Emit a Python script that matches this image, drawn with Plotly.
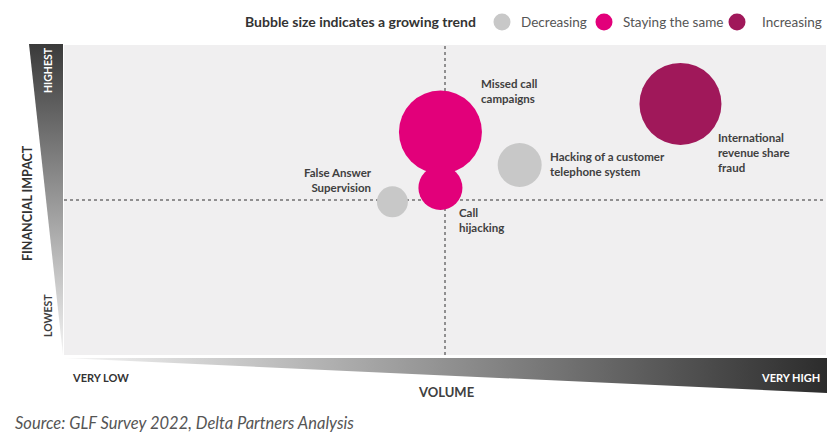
import base64
import plotly.graph_objects as go

# ---------------- data ----------------
threats = ["Missed call campaigns", "Call hijacking", "False Answer Supervision",
           "Hacking of a customer telephone system", "International revenue share fraud"]
labels = ["Missed call<br>campaigns", "Call<br>hijacking", "False Answer<br>Supervision",
          "Hacking of a customer<br>telephone system", "International<br>revenue share<br>fraud"]
volume = [4.94, 4.94, 4.31, 5.98, 8.09]      # 0 = very low, 10 = very high
impact = [7.19, 5.39, 4.94, 6.13, 8.10]      # 0 = lowest, 10 = highest
growth = [83, 44, 31, 44, 82]                # bubble size (growing trend)
trend = ["Staying the same", "Staying the same", "Decreasing", "Decreasing", "Increasing"]
trend_order = ["Decreasing", "Staying the same", "Increasing"]
trend_colors = {"Decreasing": "#c8c8c8", "Staying the same": "#e2007a", "Increasing": "#a0185a"}

# label anchor positions (data coords) and alignment
label_x = [5.45, 5.16, 4.07, 6.35, 8.56]
label_y = [8.52, 4.35, 5.65, 6.15, 6.52]
label_anchor = ["left", "left", "right", "left", "left"]

OFF = 8                      # page body margin
W, H = 840 - OFF, 443 - OFF
L, R, T, B = 64, 826, 45, 355   # plot area in window pixels
FONT = "Lato"
TXT = "#404040"


def px(x):
    return (x - L) / (R - L)


def py(y):
    return (B - y) / (B - T)


def svg_uri(svg):
    return "data:image/svg+xml;base64," + base64.b64encode(svg.encode()).decode()


fig = go.Figure()
for t in trend_order:
    idx = [i for i, v in enumerate(trend) if v == t]
    fig.add_trace(go.Scatter(
        x=[volume[i] for i in idx], y=[impact[i] for i in idx],
        mode="markers", name=t, text=[threats[i] for i in idx],
        marker=dict(size=[growth[i] for i in idx], sizemode="diameter", sizeref=1,
                    color=trend_colors[t], opacity=1, line=dict(width=0)),
        hovertemplate="%{text}<extra></extra>", showlegend=False))

# quadrant dotted lines
fig.add_shape(type="line", xref="x", yref="paper", x0=5, x1=5, y0=0, y1=1,
              line=dict(color="#707070", width=1.5, dash="dot"), layer="below")
fig.add_shape(type="line", xref="paper", yref="y", x0=0, x1=1, y0=5, y1=5,
              line=dict(color="#707070", width=1.5, dash="dot"), layer="below")

annotations = []
for i in range(len(threats)):
    annotations.append(dict(x=label_x[i], y=label_y[i], xref="x", yref="y", text=labels[i],
                            showarrow=False, xanchor=label_anchor[i], yanchor="middle",
                            align=label_anchor[i],
                            font=dict(family=FONT, size=11.5, color=TXT, weight="bold")))

# gradient wedges
left_svg = ('<svg xmlns="http://www.w3.org/2000/svg" width="34" height="311" viewBox="0 0 34 311" '
            'preserveAspectRatio="none"><defs><linearGradient id="g" x1="0" y1="0" x2="0" y2="1">'
            '<stop offset="0" stop-color="#3a3a3a"/><stop offset="1" stop-color="#f4f4f4"/>'
            '</linearGradient></defs><polygon points="0,0 34,0 34,311" fill="url(#g)"/></svg>')
bottom_svg = ('<svg xmlns="http://www.w3.org/2000/svg" width="763" height="35" viewBox="0 0 763 35" '
              'preserveAspectRatio="none"><defs><linearGradient id="g" x1="0" y1="0" x2="1" y2="0">'
              '<stop offset="0" stop-color="#f6f6f6"/><stop offset="1" stop-color="#2c2c2c"/>'
              '</linearGradient></defs><polygon points="0,0 763,0 763,35" fill="url(#g)"/></svg>')
images = [
    dict(source=svg_uri(left_svg), xref="paper", yref="paper", x=px(29), y=py(44),
         sizex=(63 - 29) / (R - L), sizey=(355 - 44) / (B - T), xanchor="left", yanchor="top",
         sizing="stretch", layer="above"),
    dict(source=svg_uri(bottom_svg), xref="paper", yref="paper", x=px(64), y=py(358),
         sizex=(827 - 64) / (R - L), sizey=(393 - 358) / (B - T), xanchor="left", yanchor="top",
         sizing="stretch", layer="above"),
]


def ptext(x, y, text, size, color, bold=True, xanchor="center", angle=0, italic=False):
    annotations.append(dict(x=px(x), y=py(y), xref="paper", yref="paper", text=text,
                            showarrow=False, xanchor=xanchor, yanchor="middle", textangle=angle,
                            font=dict(family=FONT, size=size, color=color,
                                      weight="bold" if bold else "normal",
                                      style="italic" if italic else "normal")))


ptext(48, 70, "HIGHEST", 10.5, "white", angle=-90)
ptext(48, 316, "LOWEST", 10.5, "#404040", angle=-90)
ptext(27, 203, "FINANCIAL IMPACT", 12.5, "#333333", angle=-90)
ptext(100, 377, "VERY LOW", 11, "#333333")
ptext(790, 377, "VERY HIGH", 11, "white")
ptext(446, 392, "VOLUME", 13, "#404040")
ptext(13, 423, "Source: GLF Survey 2022, Delta Partners Analysis", 16.5, "#555555",
      bold=False, xanchor="left", italic=True)

# legend (manual)
ptext(478, 22, "Bubble size indicates a growing trend", 14, "#333333", xanchor="right")
legend_pos = {"Decreasing": (502, 519), "Staying the same": (604, 621), "Increasing": (737, 760)}
for t in trend_order:
    cx, tx = legend_pos[t]
    fig.add_shape(type="circle", xref="paper", yref="paper",
                  x0=px(cx - 8.5), x1=px(cx + 8.5), y0=py(22 + 8.5), y1=py(22 - 8.5),
                  fillcolor=trend_colors[t], line=dict(width=0))
    ptext(tx, 22, t, 13.5, "#555555", bold=False, xanchor="left")

fig.update_layout(
    width=W, height=H, margin=dict(l=L - OFF, r=840 - R, t=T - OFF, b=443 - B),
    paper_bgcolor="white", plot_bgcolor="#f0eff0",
    xaxis=dict(range=[0, 10], showgrid=False, zeroline=False, showticklabels=False,
               showline=False, ticks=""),
    yaxis=dict(range=[0, 10], showgrid=False, zeroline=False, showticklabels=False,
               showline=False, ticks=""),
    annotations=annotations, images=images, showlegend=False,
)

fig.write_html("out.html")
